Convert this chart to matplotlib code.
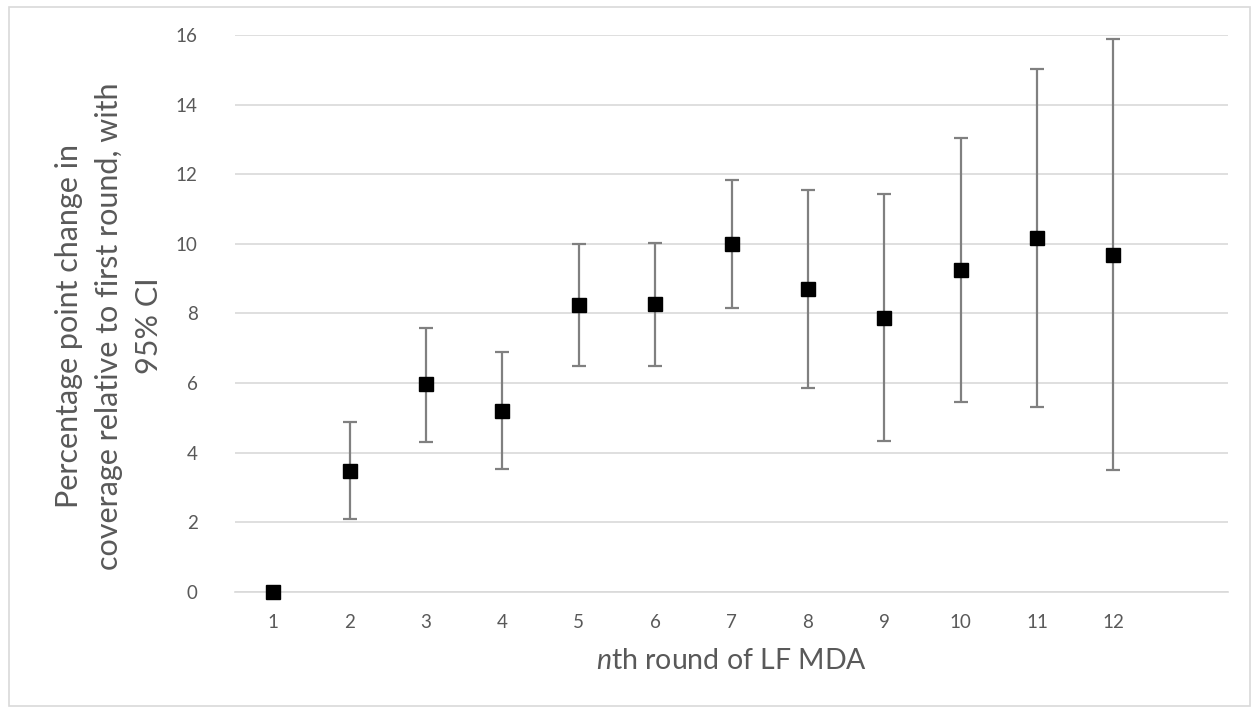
import numpy as np
import matplotlib
matplotlib.use('Agg')
import matplotlib.pyplot as plt
from matplotlib.patches import Rectangle

# rounds of mass drug administration and change vs first round
rounds = [1, 2, 3, 4, 5, 6, 7, 8, 9, 10, 11, 12]
change = [0.0, 3.48, 5.96, 5.20, 8.24, 8.28, 10.0, 8.70, 7.88, 9.26, 10.16, 9.68]
ci_low = [0.0, 2.09, 4.31, 3.52, 6.48, 6.50, 8.15, 5.86, 4.33, 5.47, 5.31, 3.49]
ci_high = [0.0, 4.89, 7.58, 6.88, 10.0, 10.02, 11.84, 11.56, 11.42, 13.05, 15.02, 15.88]
yticks = [0, 2, 4, 6, 8, 10, 12, 14, 16]

plt.rcParams['font.family'] = ['Lato', 'DejaVu Sans']
plt.rcParams['mathtext.fontset'] = 'custom'
plt.rcParams['mathtext.it'] = 'Lato:italic'
plt.rcParams['mathtext.rm'] = 'Lato'

text_col = '#595959'
grid_col = '#d9d9d9'

fig = plt.figure(figsize=(12.59, 7.13), dpi=100)
ax = fig.add_axes([0.1867, 0.1697, 0.7887, 0.7813])

change = np.array(change)
err = np.array([change - np.array(ci_low), np.array(ci_high) - change])
# first round is the reference, no error bar
ax.errorbar(rounds[1:], change[1:], yerr=err[:, 1:], fmt='none',
            ecolor='#808080', elinewidth=1.6, capsize=5, capthick=1.6, zorder=3)
ax.plot(rounds, change, 's', color='black', markersize=10, zorder=4, clip_on=False)

ax.set_xlim(0.5, 13.5)
ax.set_ylim(0, 16)
ax.set_xticks(rounds)
ax.set_yticks(yticks)
ax.tick_params(axis='both', length=0, colors=text_col, labelsize=13.5)
ax.tick_params(axis='x', pad=16)
ax.tick_params(axis='y', pad=27)
ax.yaxis.grid(True, color=grid_col, linewidth=1.2)
ax.set_axisbelow(True)
for s in ['top', 'right', 'left']:
    ax.spines[s].set_visible(False)
ax.spines['bottom'].set_color(grid_col)
ax.spines['bottom'].set_linewidth(1.2)

ax.set_xlabel(r'$\mathit{n}$th round of LF MDA', fontsize=20.5, color=text_col, labelpad=12)
fig.text(109 / 1259, 1 - 326 / 713,
         'Percentage point change in\ncoverage relative to first round, with\n95% CI',
         rotation=90, ha='center', va='center', multialignment='center',
         fontsize=22, color=text_col, linespacing=1.5)

# chart area border
fig.patches.append(Rectangle((0.007, 0.01), 0.986, 0.98, transform=fig.transFigure,
                             fill=False, edgecolor=grid_col, linewidth=1.2))

fig.savefig('out.png', dpi=100)
